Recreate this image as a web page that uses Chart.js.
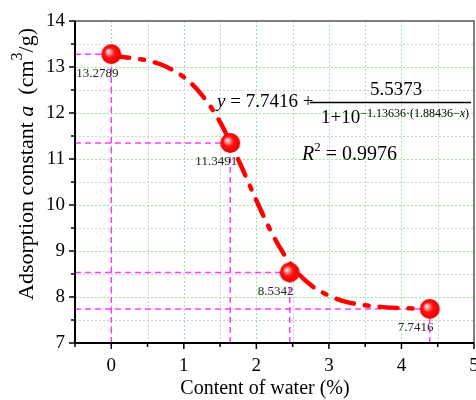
<!DOCTYPE html>
<html>
<head>
<meta charset="utf-8">
<script src="https://cdn.jsdelivr.net/npm/chart.js@4/dist/chart.umd.min.js"></script>
<style>
  html, body { margin: 0; padding: 0; background: #fff; }
  #wrap { width: 476px; height: 400px; }
</style>
</head>
<body>
<div id="wrap"><canvas id="chart" width="476" height="400"></canvas></div>
<script>
// measured points: water content (%) vs adsorption constant a
const waterContent = [0, 1.64, 2.46, 4.39];
const adsorptionA = [13.2789, 11.3491, 8.5342, 7.7416];
const pointLabels = ["13.2789", "11.3491", "8.5342", "7.7416"];

// fitted curve
const fitX = [0, 0.25, 0.5, 0.75, 1.0, 1.25, 1.5, 1.75, 2.0, 2.25, 2.5, 2.75, 3.0, 3.25, 3.5, 3.75, 4.0, 4.25, 4.39];
const fitY = [13.24, 13.20, 13.14, 13.01, 12.78, 12.39, 11.80, 10.99, 10.10, 9.28, 8.66, 8.26, 8.03, 7.89, 7.82, 7.78, 7.76, 7.75, 7.75];

const xTicks = [0, 1, 2, 3, 4, 5];
const yTicks = [7, 8, 9, 10, 11, 12, 13, 14];

const X_MIN = -0.5, X_MAX = 5, Y_MIN = 7, Y_MAX = 14;
const SERIF = "'Times New Roman', 'Liberation Serif', serif";

// red ball marker
function makeBall(r) {
  const c = document.createElement("canvas");
  c.width = c.height = r * 2 + 2;
  const g = c.getContext("2d");
  const cx = r + 1, cy = r + 1;
  const grad = g.createRadialGradient(cx - r * 0.35, cy - r * 0.3, 0, cx, cy, r);
  grad.addColorStop(0, "#ffffff");
  grad.addColorStop(0.22, "#ff9a9a");
  grad.addColorStop(0.5, "#ff1414");
  grad.addColorStop(1, "#e80000");
  g.fillStyle = grad;
  g.beginPath();
  g.arc(cx, cy, r, 0, Math.PI * 2);
  g.fill();
  return c;
}
const ball = makeBall(10);

// magenta guide lines from each point to both axes
const guideSets = [];
waterContent.forEach((x, i) => {
  const y = adsorptionA[i];
  guideSets.push({ data: [{ x: X_MIN, y: y }, { x: x, y: y }] });
  guideSets.push({ data: [{ x: x, y: Y_MIN }, { x: x, y: y }] });
});

const datasets = [
  ...guideSets.map(d => ({
    type: "line",
    data: d.data,
    borderColor: "#ff3cff",
    borderWidth: 1.5,
    borderDash: [6, 4],
    pointRadius: 0,
    order: 3
  })),
  {
    type: "line",
    data: fitX.map((x, i) => ({ x: x, y: fitY[i] })),
    borderColor: "#ff0000",
    borderWidth: 4.5,
    borderDash: [18, 11, 4, 11],
    borderCapStyle: "round",
    cubicInterpolationMode: "monotone",
    pointRadius: 0,
    order: 2
  },
  {
    type: "scatter",
    data: waterContent.map((x, i) => ({ x: x, y: adsorptionA[i] })),
    pointStyle: ball,
    pointRadius: 10,
    order: 1
  }
];

// grid, frame, ticks and titles
const decorPlugin = {
  id: "decor",
  beforeDatasetsDraw(chart) {
    const ctx = chart.ctx;
    const a = chart.chartArea;
    const xs = chart.scales.x, ys = chart.scales.y;
    ctx.save();
    ctx.lineWidth = 1;
    ctx.setLineDash([2, 2]);
    for (let v = X_MIN + 0.5; v < X_MAX; v += 0.5) {
      const px = Math.round(xs.getPixelForValue(v)) + 0.5;
      ctx.strokeStyle = Number.isInteger(v) ? "#9aea9a" : "#cfcfcf";
      ctx.beginPath(); ctx.moveTo(px, a.top); ctx.lineTo(px, a.bottom); ctx.stroke();
    }
    for (let v = Y_MIN + 0.5; v < Y_MAX; v += 0.5) {
      const py = Math.round(ys.getPixelForValue(v)) + 0.5;
      ctx.strokeStyle = Number.isInteger(v) ? "#9aea9a" : "#cfcfcf";
      ctx.beginPath(); ctx.moveTo(a.left, py); ctx.lineTo(a.right, py); ctx.stroke();
    }
    ctx.restore();
  },
  afterDatasetsDraw(chart) {
    const ctx = chart.ctx;
    const a = chart.chartArea;
    const xs = chart.scales.x, ys = chart.scales.y;
    ctx.save();

    // frame: grey top/right, black axes
    ctx.strokeStyle = "#555";
    ctx.lineWidth = 1.5;
    ctx.beginPath();
    ctx.moveTo(a.left, a.top); ctx.lineTo(a.right, a.top); ctx.lineTo(a.right, a.bottom);
    ctx.stroke();
    ctx.strokeStyle = "#000";
    ctx.lineWidth = 2;
    ctx.beginPath();
    ctx.moveTo(a.left, a.top); ctx.lineTo(a.left, a.bottom); ctx.lineTo(a.right, a.bottom);
    ctx.stroke();

    // outward ticks
    ctx.lineWidth = 1.5;
    for (let v = X_MIN; v <= X_MAX + 1e-9; v += 0.5) {
      const px = xs.getPixelForValue(v);
      const len = Number.isInteger(v) ? 6 : 4;
      ctx.beginPath(); ctx.moveTo(px, a.bottom); ctx.lineTo(px, a.bottom + len); ctx.stroke();
    }
    for (let v = Y_MIN; v <= Y_MAX + 1e-9; v += 0.5) {
      const py = ys.getPixelForValue(v);
      const len = Number.isInteger(v) ? 6 : 4;
      ctx.beginPath(); ctx.moveTo(a.left, py); ctx.lineTo(a.left - len, py); ctx.stroke();
    }

    // point value labels
    ctx.fillStyle = "#222";
    ctx.font = "13px " + SERIF;
    ctx.textAlign = "center";
    ctx.textBaseline = "middle";
    waterContent.forEach((x, i) => {
      ctx.fillText(pointLabels[i], xs.getPixelForValue(x) - 14, ys.getPixelForValue(adsorptionA[i]) + 19);
    });

    // axis titles
    ctx.fillStyle = "#000";
    ctx.font = "20px " + SERIF;
    ctx.textAlign = "center";
    ctx.textBaseline = "alphabetic";
    ctx.fillText("Content of water (%)", 265, 394);

    ctx.save();
    ctx.translate(33, 164);
    ctx.rotate(-Math.PI / 2);
    const parts = [
      { t: "Adsorption constant ", f: "22px " + SERIF, dy: 0 },
      { t: "a", f: "italic 22px " + SERIF, dy: 0 },
      { t: "  (cm", f: "22px " + SERIF, dy: 0 },
      { t: "3", f: "16px " + SERIF, dy: -11 },
      { t: "/g)", f: "22px " + SERIF, dy: 0 }
    ];
    let total = 0;
    parts.forEach(p => { ctx.font = p.f; p.w = ctx.measureText(p.t).width; total += p.w; });
    let cx = -total / 2;
    ctx.textAlign = "left";
    parts.forEach(p => { ctx.font = p.f; ctx.fillText(p.t, cx, p.dy); cx += p.w; });
    ctx.restore();

    // fit equation
    ctx.textAlign = "left";
    ctx.font = "italic 19px " + SERIF;
    ctx.fillText("y", 217, 107);
    let ex = 217 + ctx.measureText("y").width;
    ctx.font = "19px " + SERIF;
    ctx.fillText(" = 7.7416 +", ex, 107);

    ctx.strokeStyle = "#000";
    ctx.lineWidth = 1.5;
    ctx.beginPath(); ctx.moveTo(310, 102.5); ctx.lineTo(471, 102.5); ctx.stroke();

    ctx.textAlign = "center";
    ctx.fillText("5.5373", 396, 95);
    ctx.textAlign = "left";
    ctx.fillText("1+10", 321, 123);
    let dx = 321 + ctx.measureText("1+10").width;
    ctx.font = "12px " + SERIF;
    const expA = "\u22121.13636\u00b7(1.88436\u2212";
    ctx.fillText(expA, dx, 117);
    dx += ctx.measureText(expA).width;
    ctx.font = "italic 12px " + SERIF;
    ctx.fillText("x", dx, 117);
    dx += ctx.measureText("x").width;
    ctx.font = "12px " + SERIF;
    ctx.fillText(")", dx, 117);

    ctx.font = "italic 20px " + SERIF;
    ctx.fillText("R", 302, 160);
    let rx = 302 + ctx.measureText("R").width;
    ctx.font = "13px " + SERIF;
    ctx.fillText("2", rx, 151);
    rx += ctx.measureText("2").width;
    ctx.font = "20px " + SERIF;
    ctx.fillText(" = 0.9976", rx, 160);

    ctx.restore();
  }
};

new Chart(document.getElementById("chart"), {
  type: "scatter",
  data: { datasets: datasets },
  options: {
    responsive: false,
    animation: false,
    layout: { autoPadding: false, padding: { top: 21, right: 2, left: 0, bottom: 0 } },
    plugins: { legend: { display: false }, tooltip: { enabled: false } },
    scales: {
      x: {
        type: "linear",
        min: X_MIN,
        max: X_MAX,
        afterBuildTicks: s => { s.ticks = xTicks.map(v => ({ value: v })); },
        afterFit: s => { s.height = 57; s.paddingLeft = 0; s.paddingRight = 0; },
        grid: { display: false, drawTicks: false },
        border: { display: false },
        ticks: { color: "#000", padding: 12, font: { family: SERIF, size: 19 } }
      },
      y: {
        type: "linear",
        min: Y_MIN,
        max: Y_MAX,
        afterBuildTicks: s => { s.ticks = yTicks.map(v => ({ value: v })); },
        afterFit: s => { s.width = 75; s.paddingTop = 0; s.paddingBottom = 0; },
        grid: { display: false, drawTicks: false },
        border: { display: false },
        ticks: { color: "#000", padding: 10, font: { family: SERIF, size: 19 } }
      }
    }
  },
  plugins: [decorPlugin]
});
</script>
</body>
</html>
